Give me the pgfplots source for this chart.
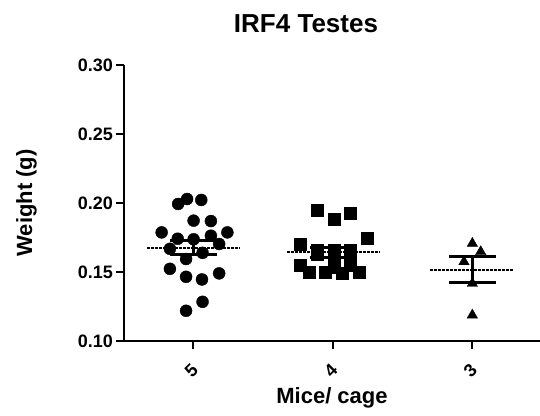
\documentclass[border=0pt]{standalone}
\usepackage{pgfplots}
\pgfplotsset{compat=1.18}
\usepackage{fontspec}
\setmainfont{Liberation Sans}
\begin{document}
\begin{tikzpicture}[x=1pt,y=1pt]
\useasboundingbox (0,0) rectangle (540,415);
\node[font=\bfseries\fontsize{26}{30}\selectfont, anchor=base] at (306,382.5) {IRF4 Testes};
\begin{axis}[
  at={(124pt,74pt)}, anchor=south west,
  width=416pt, height=276pt, scale only axis,
  xmin=-0.497, xmax=2.485, ymin=0.1, ymax=0.3,
  axis x line=bottom, axis y line=left,
  axis line style={line width=2pt, -},
  xtick={0,1,2}, xticklabels={5,4,3},
  ytick={0.10,0.15,0.20,0.25,0.30},
  tick align=outside, major tick length=8pt,
  tick style={line width=2pt, black},
  scaled y ticks=false,
  /pgf/number format/assume math mode=true,
  yticklabel style={/pgf/number format/.cd, fixed, fixed zerofill, precision=2, /tikz/.cd,
    font=\bfseries\fontsize{18}{20}\selectfont, inner xsep=3pt},
  xticklabel style={yshift=-22pt, xshift=-2pt, rotate=45, anchor=center,
    font=\bfseries\fontsize{18}{20}\selectfont},
  xlabel={Mice/ cage}, ylabel={Weight (g)},
  label style={font=\bfseries\fontsize{22}{26}\selectfont},
  xlabel style={at={(axis description cs:0.5,-0.2275)}, anchor=base},
  ylabel style={at={(axis description cs:-0.221,0.5)}, anchor=base},
  clip=false,
]
% group 5
\addplot[only marks, mark=*, mark size=6pt, black] coordinates {
(-0.109,0.1993) (-0.045,0.2029) (0.057,0.2022) (0.002,0.1872) (0.126,0.1869)
(-0.227,0.1787) (-0.112,0.1741) (0.002,0.1737) (0.126,0.1763) (0.244,0.1787)
(0.185,0.1703) (-0.168,0.1668) (0.066,0.1639) (-0.052,0.1594) (-0.168,0.1523)
(-0.052,0.1465) (0.062,0.1446) (0.185,0.1490) (0.066,0.1284) (-0.052,0.1219)
};
% group 4
\addplot[only marks, mark=square*, mark size=6pt, black] coordinates {
(0.888,0.1949) (1.007,0.1881) (1.127,0.1929) (0.768,0.1702) (1.247,0.1744)
(0.888,0.1659) (1.007,0.1659) (1.127,0.1659) (0.888,0.1628) (1.007,0.1628)
(1.127,0.1628) (0.768,0.1550) (0.828,0.1501) (0.948,0.1501) (1.007,0.1538)
(1.067,0.1490) (1.186,0.1501) (1.127,0.1550)
};
% group 3
\addplot[only marks, mark=triangle*, mark size=6pt, black] coordinates {
(2,0.1707) (2.06,0.1647) (1.94,0.1574) (2,0.1417) (2,0.1188)
};
% mean lines (white base, black dashes)
\addplot[white, line width=2pt, no marks] coordinates {(-0.33,0.1677) (0.33,0.1677)};
\addplot[black, line width=2pt, no marks, dash pattern=on 3pt off 1pt] coordinates {(-0.33,0.1677) (0.33,0.1677)};
\addplot[white, line width=2pt, no marks] coordinates {(0.67,0.1642) (1.33,0.1642)};
\addplot[black, line width=2pt, no marks, dash pattern=on 3pt off 1pt] coordinates {(0.67,0.1642) (1.33,0.1642)};
\addplot[white, line width=2pt, no marks] coordinates {(1.70,0.1514) (2.30,0.1514)};
\addplot[black, line width=2pt, no marks, dash pattern=on 3pt off 1pt] coordinates {(1.70,0.1514) (2.30,0.1514)};
% SEM bars
\addplot[black, line width=3pt, no marks] coordinates {(-0.167,0.1727) (0.167,0.1727)};
\addplot[black, line width=3pt, no marks] coordinates {(-0.167,0.1627) (0.167,0.1627)};
\addplot[black, line width=3pt, no marks] coordinates {(0,0.1627) (0,0.1727)};
\addplot[black, line width=3pt, no marks] coordinates {(0.833,0.1677) (1.167,0.1677)};
\addplot[black, line width=3pt, no marks] coordinates {(0.833,0.1607) (1.167,0.1607)};
\addplot[black, line width=3pt, no marks] coordinates {(1,0.1607) (1,0.1677)};
\addplot[black, line width=3pt, no marks] coordinates {(1.833,0.1610) (2.167,0.1610)};
\addplot[black, line width=3pt, no marks] coordinates {(1.833,0.1427) (2.167,0.1427)};
\addplot[black, line width=3pt, no marks] coordinates {(2,0.1427) (2,0.1610)};
\end{axis}
\end{tikzpicture}
\end{document}
